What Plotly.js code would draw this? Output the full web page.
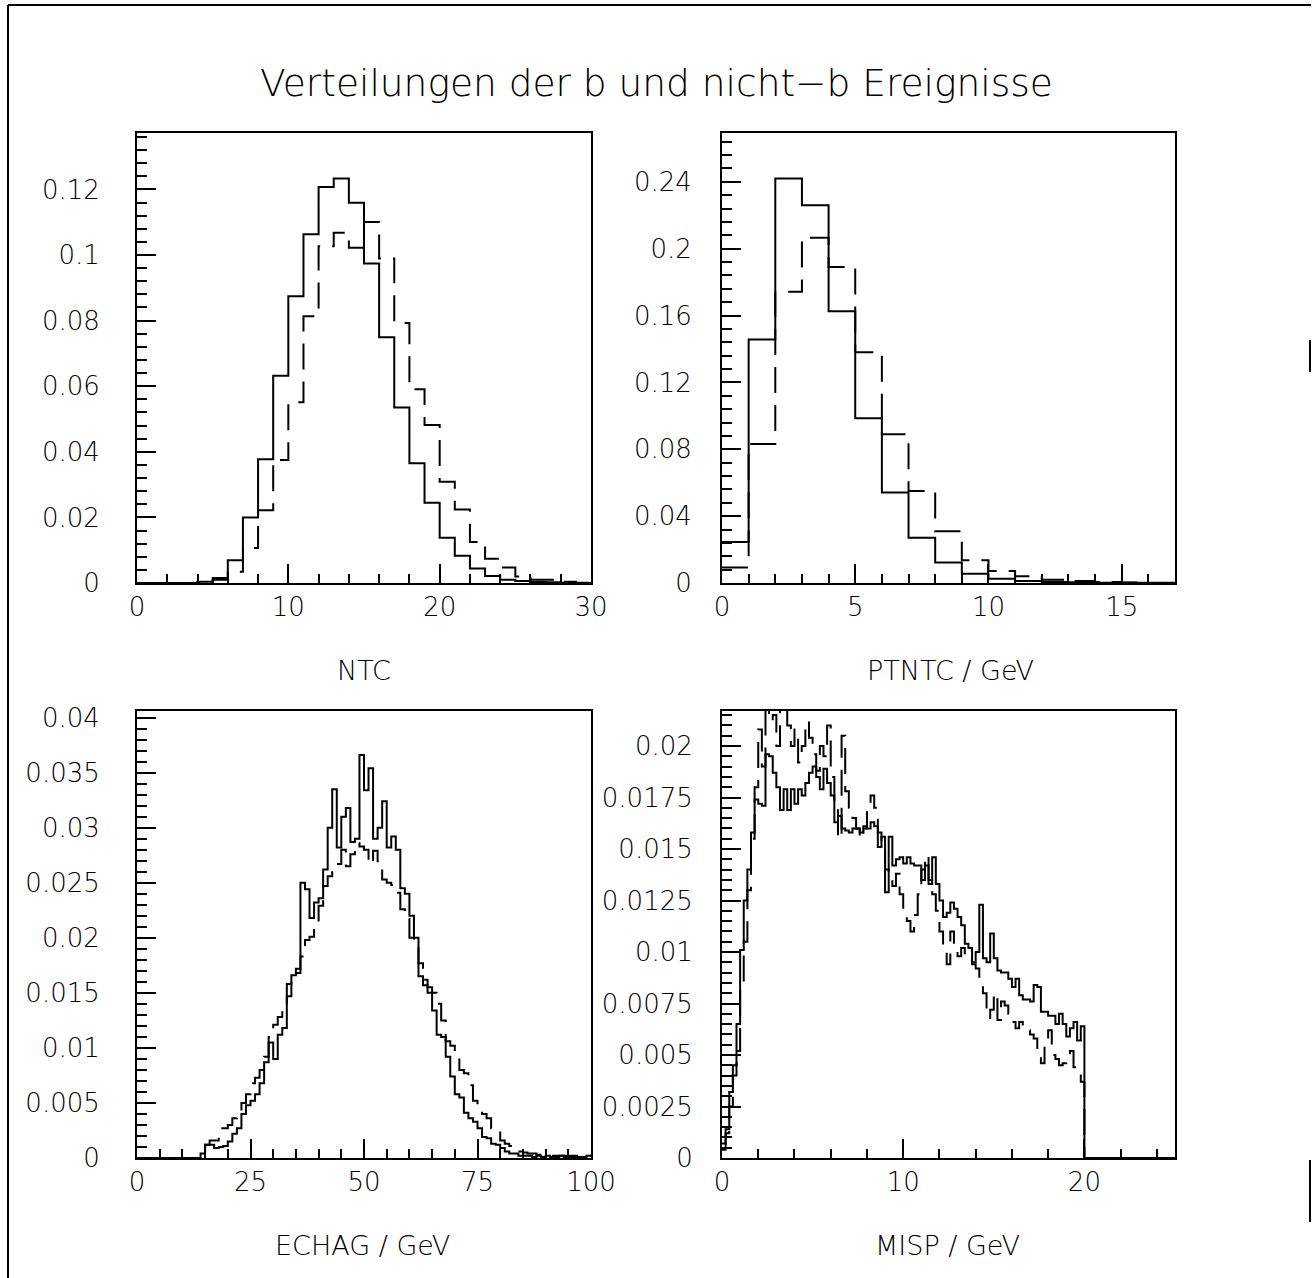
<!DOCTYPE html>
<html>
<head>
<meta charset="utf-8">
<script src="https://cdn.plot.ly/plotly-3.0.1.min.js"></script>
<style>
  html, body { margin: 0; padding: 0; background: #ffffff; }
  #chart { width: 1315px; height: 1278px; }
</style>
</head>
<body>
<div id="chart"></div>
<script>
// ---------------- DATA ----------------
// NTC: 30 bins of width 1 from 0 to 30
const ntcStart = 0, ntcWidth = 1;
const ntcSolid = [0,0,0,0,0.0004,0.0015,0.0069,0.0200,0.0377,0.0632,0.0874,0.1063,0.1207,0.1233,0.1159,0.0974,0.0749,0.0535,0.0365,0.0245,0.0138,0.0083,0.0044,0.0021,0.0010,0.0006,0.0003,0.0002,0.0001,0];
const ntcDashed = [0,0,0,0,0.0002,0.0010,0.0034,0.0107,0.0222,0.0375,0.0551,0.0813,0.1027,0.1068,0.1022,0.1101,0.0989,0.0793,0.0591,0.0482,0.0309,0.0224,0.0125,0.0074,0.0047,0.0020,0.0010,0.0010,0.0004,0.0001];

// PTNTC: 17 bins of width 1 from 0 to 17
const ptStart = 0, ptWidth = 1;
const ptSolid = [0.0246,0.1456,0.2420,0.2260,0.1626,0.0986,0.0542,0.0270,0.0122,0.0056,0.0026,0.0012,0.0006,0.0004,0.0002,0.0001,0];
const ptDashed = [0.0092,0.0832,0.1742,0.2066,0.1890,0.1380,0.0890,0.0550,0.0310,0.0136,0.0072,0.0040,0.0020,0.0012,0.0006,0.0003,0.0001];

// ECHAG: 100 bins of width 1 from 0 to 100
const echStart = 0, echWidth = 1;
const echSolid = [
 0,0,0,0,0,0,0,0,0,0,
 0,0,0,0,0.0004,0.0012,0.0012,0.0009,0.0010,0.0011,
 0.0015,0.0022,0.0027,0.0040,0.0048,0.0052,0.0058,0.0068,0.0087,0.0105,
 0.0090,0.0112,0.0118,0.0158,0.0166,0.0172,0.0250,0.0244,0.0218,0.0232,
 0.0236,0.0262,0.0300,0.0335,0.0282,0.0310,0.0318,0.0287,0.0290,0.0366,
 0.0334,0.0354,0.0290,0.0300,0.0324,0.0282,0.0292,0.0280,0.0245,0.0240,
 0.0220,0.0200,0.0165,0.0157,0.0150,0.0134,0.0112,0.0110,0.0092,0.0074,
 0.0058,0.0055,0.0041,0.0036,0.0033,0.0027,0.0019,0.0018,0.0013,0.0012,
 0.0009,0.0006,0.0004,0.0004,0.0002,0.0002,0.0002,0.0001,0.0002,0.0001,
 0.0002,0.0001,0.0001,0.0002,0.0001,0.0001,0.0001,0.0001,0.0001,0.0002];
const echDashed = [
 0,0,0,0,0,0,0,0,0,0,
 0,0,0,0,0.0003,0.0012,0.0016,0.0016,0.0027,0.0027,
 0.0030,0.0036,0.0042,0.0050,0.0058,0.0068,0.0073,0.0080,0.0092,0.0110,
 0.0121,0.0128,0.0138,0.0147,0.0162,0.0168,0.0183,0.0198,0.0201,0.0212,
 0.0229,0.0247,0.0256,0.0262,0.0267,0.0280,0.0265,0.0276,0.0286,0.0283,
 0.0280,0.0267,0.0279,0.0265,0.0253,0.0250,0.0248,0.0241,0.0226,0.0217,
 0.0200,0.0198,0.0177,0.0162,0.0155,0.0150,0.0140,0.0125,0.0106,0.0102,
 0.0092,0.0080,0.0077,0.0066,0.0052,0.0048,0.0040,0.0036,0.0027,0.0024,
 0.0016,0.0013,0.0011,0.0009,0.0006,0.0005,0.0004,0.0004,0.0003,0.0003,
 0.0003,0.0002,0.0002,0.0002,0.0002,0.0002,0.0002,0.0002,0.0002,0.0002];

// MISP: 125 bins of width 0.2 from 0 to 25
const misStart = 0, misWidth = 0.2;
const misSolid = [
 0.0007,0.0014,0.0032,0.0045,0.0065,0.0101,0.0125,0.0140,0.0158,0.0174,
 0.0172,0.0171,0.0196,0.0195,0.0187,0.0180,0.0169,0.0179,0.0169,0.0179,
 0.0172,0.0179,0.0176,0.0182,0.0187,0.0190,0.0185,0.0179,0.0189,0.0182,
 0.0176,0.0163,0.0166,0.0160,0.0159,0.0158,0.0160,0.0160,0.0158,0.0161,
 0.0160,0.0163,0.0161,0.0151,0.0156,0.0129,0.0156,0.0142,0.0145,0.0146,
 0.0143,0.0146,0.0143,0.0142,0.0142,0.0135,0.0142,0.0133,0.0146,0.0133,
 0.0125,0.0117,0.0119,0.0124,0.0121,0.0117,0.0113,0.0104,0.0102,0.0095,
 0.0100,0.0123,0.0097,0.0095,0.0109,0.0097,0.0091,0.0090,0.0090,0.0087,
 0.0083,0.0087,0.0079,0.0077,0.0077,0.0076,0.0084,0.0083,0.0071,0.0071,
 0.0069,0.0069,0.0065,0.0070,0.0065,0.0059,0.0063,0.0066,0.0057,0.0064,
 0,0,0,0,0,0,0,0,0,0,
 0,0,0,0,0,0,0,0,0,0,
 0,0,0,0,0];
const misDashed = [
 0.0004,0.0012,0.0025,0.0040,0.0052,0.0085,0.0105,0.0130,0.0155,0.0180,
 0.0208,0.0190,0.0225,0.0212,0.0215,0.0200,0.0225,0.0222,0.0210,0.0200,
 0.0208,0.0192,0.0200,0.0212,0.0204,0.0196,0.0188,0.0200,0.0195,0.0210,
 0.0185,0.0170,0.0155,0.0205,0.0178,0.0170,0.0165,0.0160,0.0155,0.0160,
 0.0168,0.0176,0.0170,0.0158,0.0150,0.0140,0.0135,0.0132,0.0138,0.0128,
 0.0120,0.0115,0.0110,0.0118,0.0128,0.0140,0.0147,0.0135,0.0128,0.0120,
 0.0110,0.0102,0.0094,0.0110,0.0104,0.0098,0.0102,0.0098,0.0096,0.0094,
 0.0092,0.0085,0.0080,0.0068,0.0072,0.0080,0.0067,0.0076,0.0074,0.0070,
 0.0066,0.0063,0.0066,0.0064,0.0062,0.0060,0.0058,0.0050,0.0046,0.0056,
 0.0062,0.0050,0.0048,0.0045,0.0046,0.0050,0.0052,0.0044,0.0040,0.0037,
 0,0,0,0,0,0,0,0,0,0,
 0,0,0,0,0,0,0,0,0,0,
 0,0,0,0,0];

// Texts
const mainTitle = 'Verteilungen der b und nicht\u2212b Ereignisse';
const axisTitles = ['NTC', 'PTNTC / GeV', 'ECHAG / GeV', 'MISP / GeV'];

// ---------------- helpers ----------------
function stepTrace(start, width, vals, xa, ya, dashed) {
  const x = [], y = [];
  for (let i = 0; i < vals.length; i++) { x.push(start + i * width); y.push(vals[i]); }
  x.push(start + vals.length * width); y.push(vals[vals.length - 1]);
  return {
    type: 'scatter', mode: 'lines', x: x, y: y, xaxis: xa, yaxis: ya,
    line: { shape: 'hv', color: '#000000', width: 2, dash: dashed ? '26px,12px' : 'solid' },
    hoverinfo: 'skip', showlegend: false
  };
}

const traces = [
  stepTrace(ntcStart, ntcWidth, ntcSolid, 'x', 'y', false),
  stepTrace(ntcStart, ntcWidth, ntcDashed, 'x', 'y', true),
  stepTrace(ptStart, ptWidth, ptSolid, 'x2', 'y2', false),
  stepTrace(ptStart, ptWidth, ptDashed, 'x2', 'y2', true),
  stepTrace(echStart, echWidth, echSolid, 'x3', 'y3', false),
  stepTrace(echStart, echWidth, echDashed, 'x3', 'y3', true),
  stepTrace(misStart, misWidth, misSolid, 'x4', 'y4', false),
  stepTrace(misStart, misWidth, misDashed, 'x4', 'y4', true)
];

const FONT = 'DejaVu Sans, Noto Sans, sans-serif';
const W = 1315, H = 1278;
const px = v => v / W;
const py = v => 1 - v / H;

function xAxis(domain, range, dtick, minorDtick, anchor) {
  return {
    domain: domain, range: range, anchor: anchor,
    tickmode: 'linear', tick0: 0, dtick: dtick,
    ticks: 'inside', ticklen: 19, tickwidth: 2, tickcolor: '#000',
    minor: { ticks: 'inside', ticklen: 9, tickwidth: 2, tickcolor: '#000', dtick: minorDtick, tick0: 0, showgrid: false },
    showline: true, mirror: true, linecolor: '#000', linewidth: 2,
    showgrid: false, zeroline: false, fixedrange: true,
    tickfont: { family: FONT, size: 26, color: '#000', weight: 200 },
    ticklabelstandoff: 0
  };
}
function yAxis(domain, range, dtick, minorDtick, anchor, standoff) {
  return {
    domain: domain, range: range, anchor: anchor,
    tickmode: 'linear', tick0: 0, dtick: dtick,
    ticks: 'inside', ticklen: 19, tickwidth: 2, tickcolor: '#000',
    minor: { ticks: 'inside', ticklen: 10, tickwidth: 2, tickcolor: '#000', dtick: minorDtick, tick0: 0, showgrid: false },
    showline: true, mirror: true, linecolor: '#000', linewidth: 2,
    showgrid: false, zeroline: false, fixedrange: true,
    tickfont: { family: FONT, size: 26, color: '#000', weight: 200 },
    ticklabelstandoff: standoff
  };
}

const dxL = [px(137), px(591)];
const dxR = [px(722), px(1175)];
const dyT = [py(583), py(133)];
const dyB = [py(1158), py(711)];

const titleFont = { family: FONT, size: 37.5, color: '#000', weight: 200 };
const labFont = { family: FONT, size: 27, color: '#000', weight: 200 };

const layout = {
  width: W, height: H,
  margin: { l: 0, r: 0, t: 0, b: 0, pad: 0 },
  paper_bgcolor: '#ffffff', plot_bgcolor: '#ffffff',
  showlegend: false,
  xaxis: xAxis(dxL, [0, 30], 10, 2, 'y'),
  yaxis: yAxis(dyT, [0, 0.1372], 0.02, 0.004, 'x', 30),
  xaxis2: xAxis(dxR, [0, 17], 5, 1, 'y2'),
  yaxis2: yAxis(dyT, [0, 0.2692], 0.04, 0.008, 'x2', 23),
  xaxis3: xAxis(dxL, [0, 100], 25, 5, 'y3'),
  yaxis3: yAxis(dyB, [0, 0.0406], 0.005, 0.001, 'x3', 30),
  xaxis4: xAxis(dxR, [0, 25], 10, 2, 'y4'),
  yaxis4: yAxis(dyB, [0, 0.0217], 0.0025, 0.0005, 'x4', 22),
  annotations: [
    { text: mainTitle, xref: 'paper', yref: 'paper', x: px(656), y: py(83), xanchor: 'center', yanchor: 'middle', showarrow: false, font: titleFont },
    { text: axisTitles[0], xref: 'paper', yref: 'paper', x: px(364), y: py(670), xanchor: 'center', yanchor: 'middle', showarrow: false, font: labFont },
    { text: axisTitles[1], xref: 'paper', yref: 'paper', x: px(950), y: py(670), xanchor: 'center', yanchor: 'middle', showarrow: false, font: labFont },
    { text: axisTitles[2], xref: 'paper', yref: 'paper', x: px(362), y: py(1245), xanchor: 'center', yanchor: 'middle', showarrow: false, font: labFont },
    { text: axisTitles[3], xref: 'paper', yref: 'paper', x: px(947), y: py(1245), xanchor: 'center', yanchor: 'middle', showarrow: false, font: labFont }
  ],
  shapes: [
    { type: 'line', xref: 'paper', yref: 'paper', x0: px(8), x1: px(8), y0: 0, y1: py(5), line: { color: '#000', width: 2 } },
    { type: 'line', xref: 'paper', yref: 'paper', x0: px(8), x1: px(1311), y0: py(5), y1: py(5), line: { color: '#000', width: 2 } },
    { type: 'line', xref: 'paper', yref: 'paper', x0: px(1310), x1: px(1310), y0: py(340), y1: py(372), line: { color: '#000', width: 2 } },
    { type: 'line', xref: 'paper', yref: 'paper', x0: px(1310), x1: px(1310), y0: py(1160), y1: py(1222), line: { color: '#000', width: 2 } }
  ]
};

Plotly.newPlot('chart', traces, layout, { staticPlot: true, displayModeBar: false });
</script>
</body>
</html>
